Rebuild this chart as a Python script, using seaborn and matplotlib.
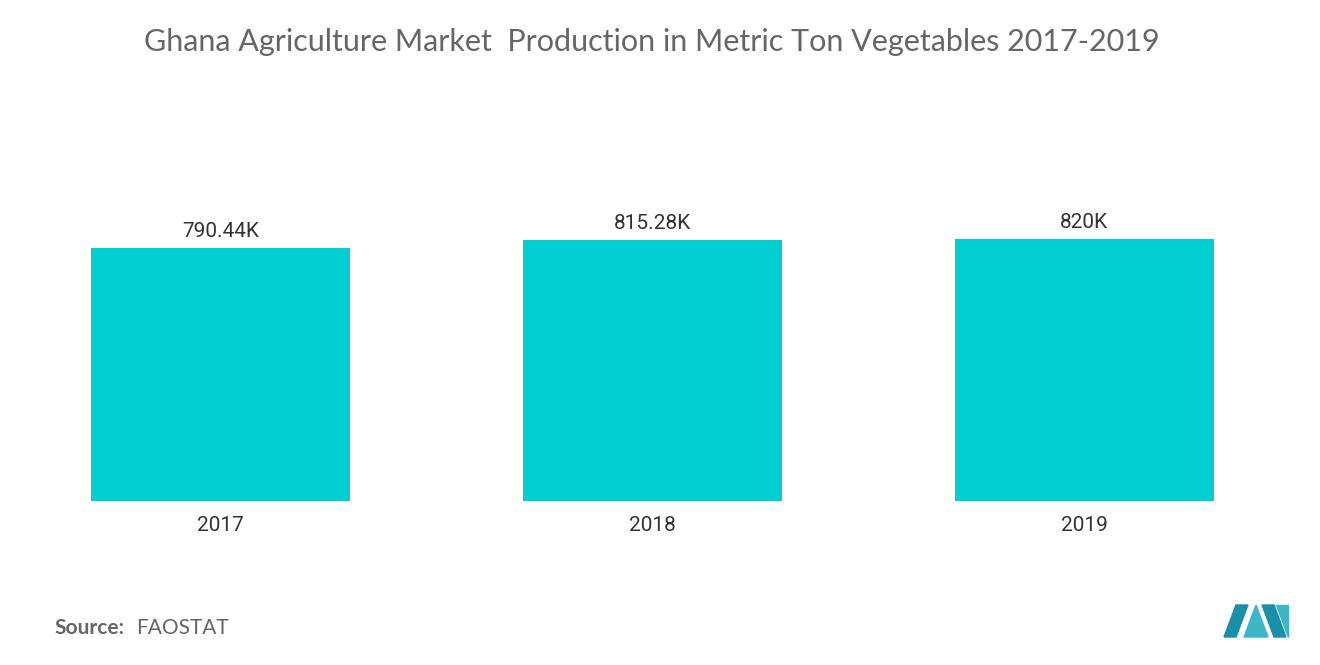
import matplotlib
matplotlib.use("Agg")
import matplotlib.pyplot as plt
import seaborn as sns
import pandas as pd
from matplotlib.patches import Polygon

years = ["2017", "2018", "2019"]
values = [790.44, 815.28, 820.0]
labels = ["790.44K", "815.28K", "820K"]

df = pd.DataFrame({"year": years, "value": values})
fig = plt.figure(figsize=(13.2, 6.65), dpi=100)
W, H = 1320, 665
ax = fig.add_axes([4.5 / W, 1 - 501 / H, 1295.5 / W, 401 / H])
sns.barplot(data=df, x="year", y="value", color="#00CED1", width=0.6, ax=ax, saturation=1)
ax.set_xlim(-0.5, 2.5)
ax.set_ylim(0, 401 / 0.32)
for i, (v, l) in enumerate(zip(values, labels)):
    ax.text(i, v + 22, l, ha="center", va="bottom", fontsize=15, color="#333333", family="Roboto")
for s in ax.spines.values():
    s.set_visible(False)
ax.set_yticks([])
ax.set_xlabel("")
ax.set_ylabel("")
ax.tick_params(axis="x", length=0, pad=11, labelsize=15, labelcolor="#333333")
for t in ax.get_xticklabels():
    t.set_family("Roboto")

fig.text(652 / W, 1 - 42 / H, "Ghana Agriculture Market  Production in Metric Ton Vegetables 2017-2019",
         ha="center", va="center", fontsize=22, color="#666666", family="Lato")
fig.text(54 / W, 1 - 628 / H, "Source:", ha="left", va="center", fontsize=15, color="#666666",
         family="Lato", weight="bold")
fig.text(136 / W, 1 - 628 / H, "FAOSTAT", ha="left", va="center", fontsize=15, color="#666666", family="Lato")

def P(pts, c):
    fig.patches.append(Polygon([(x / W, 1 - y / H) for x, y in pts], closed=True,
                               transform=fig.transFigure, color=c))
P([(1224, 637), (1236, 605), (1248, 605), (1236, 637)], "#1a8fa8")
P([(1244, 637), (1256, 605), (1268, 637)], "#3ab6c7")
P([(1262, 605), (1274, 605), (1286, 637), (1274, 637)], "#1a8fa8")
P([(1276, 605), (1288, 605), (1288, 637)], "#3ab6c7")
fig.savefig("out.png", dpi=100)
